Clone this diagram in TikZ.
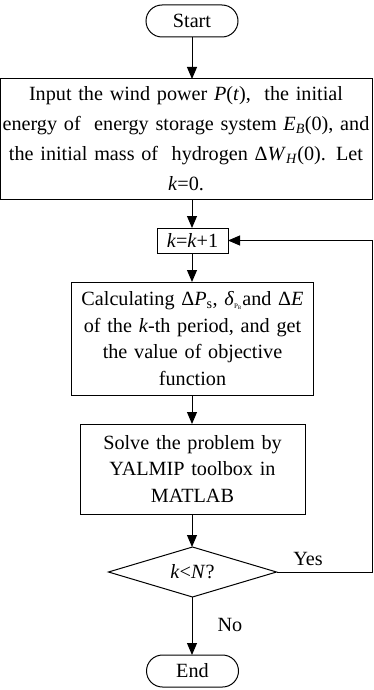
\documentclass[tikz,border=0pt]{standalone}
\usepackage{fontspec}
\setmainfont{Liberation Serif}
\usepackage{tikz}
\usetikzlibrary{arrows.meta,positioning,shapes.geometric}

\begin{document}
\begin{tikzpicture}[x=1pt, y=1pt,
  font=\fontsize{20.2}{30}\selectfont,
  box/.style={draw, line width=1pt, align=center, inner sep=1pt, outer sep=0pt},
  tight/.style={font=\fontsize{20.2}{26.5}\selectfont},
  term/.style={draw, line width=1pt, rounded corners=16pt, outer sep=0pt,
               minimum width=92pt, minimum height=32pt, inner sep=0pt},
  arr/.style={line width=1pt, -{Triangle[length=12pt,width=10pt]}}]
\useasboundingbox (0,0) rectangle (373,-690);
\node[term] (start) at (192,-21) {Start};
\node[box, below=42pt of start, xshift=-6pt, text width=370pt,
      minimum height=120pt] (input)
  {Input the wind power \textit{P}(\textit{t}),\ \ the initial\\
   energy of\ \ energy storage system \textit{E}\textsubscript{\textit{B}}(0), and\\
   the initial mass of\ \ hydrogen Δ\textit{W}\textsubscript{\textit{H}}(0). Let\\
   \textit{k}=0.};
\node[box, below=29pt of input, xshift=6.5pt, minimum width=71pt,
      minimum height=25pt, inner sep=0pt] (inc)
  {\textit{k}=\textit{k}+1};
\node[box, tight, below=29pt of inc, text width=240pt, minimum height=113pt] (calc)
  {Calculating Δ\textit{P}\textsubscript{s}, \textit{δ}\textsubscript{\scriptsize P\textsubscript{B}}and Δ\textit{E}\\
   of the \textit{k}-th period, and get\\
   the value of objective\\
   function};
\node[box, tight, below=29pt of calc, text width=223pt, minimum height=90pt] (solve)
  {Solve the problem by\\
   YALMIP toolbox in\\
   MATLAB};
\node[draw, line width=1pt, diamond, aspect=3.36, minimum width=168pt,
      minimum height=50pt, inner sep=0pt, outer sep=0pt, below=33pt of solve] (check)
  {\textit{k}<\textit{N}?};
\node[term, below=58pt of check] (stop) {End};
\coordinate (back) at ([xshift=96pt]check.east);
\node (yes) at (308,-559) {Yes};
\node (no) at (230,-625) {No};
% main flow
\foreach \a/\b in {start/input,input/inc,inc/calc,calc/solve,solve/check,check/stop}
  \draw[arr] (\a.south -| start) -- (\b.north -| start);
% loop back
\draw[arr] (check.east) -- (back) |- (inc.east);
\end{tikzpicture}
\end{document}
